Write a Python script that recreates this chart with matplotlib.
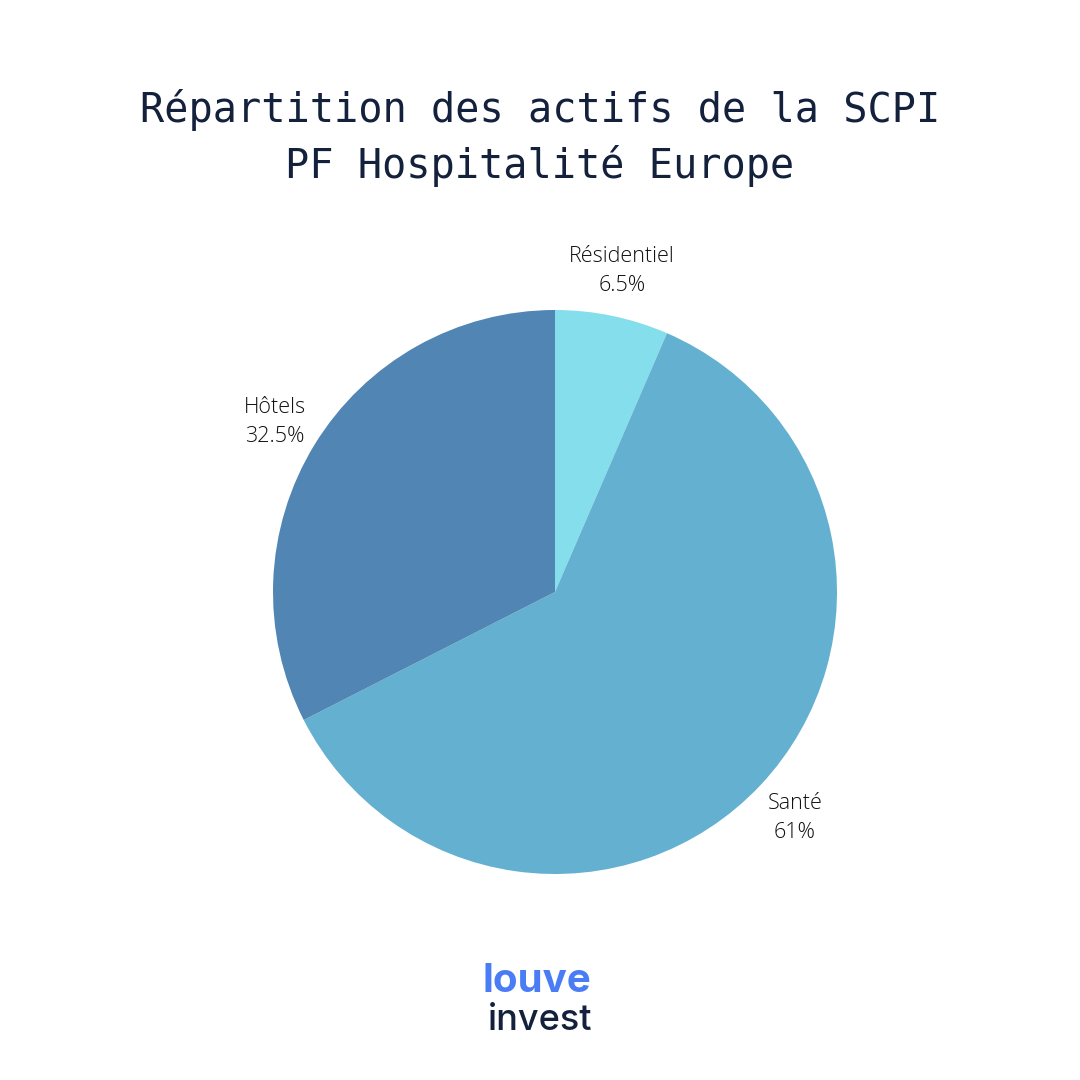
import matplotlib.pyplot as plt

labels = ["Résidentiel", "Santé", "Hôtels"]
values = [6.5, 61, 32.5]
value_labels = ["6.5%", "61%", "32.5%"]
colors = ["#84deec", "#63b0d0", "#5185b3"]

fig = plt.figure(figsize=(10.8, 10.8), dpi=100)
fig.patch.set_facecolor("white")

# pie centre at (555, 592) px, radius ~282 px
ax = fig.add_axes([(555 - 282) / 1080, 1 - (592 + 282) / 1080, 564 / 1080, 564 / 1080])
wedges, _ = ax.pie(values, colors=colors, startangle=90, counterclock=False,
                   wedgeprops=dict(linewidth=0))
ax.set_xlim(-1, 1)
ax.set_ylim(-1, 1)
ax.set_aspect("equal")

label_pos = {"Résidentiel": (622, 271), "Santé": (795, 818), "Hôtels": (275, 422)}
for lab, vl in zip(labels, value_labels):
    x, y = label_pos[lab]
    fig.text(x / 1080, 1 - y / 1080, f"{lab}\n{vl}", ha="center", va="center",
             fontsize=15.5, family="Open Sans", fontweight="light", color="#111111",
             linespacing=1.45)

fig.text(0.5, 1 - 138 / 1080, "Répartition des actifs de la SCPI\nPF Hospitalité Europe",
         ha="center", va="center", fontsize=29, family="DejaVu Sans Mono",
         color="#14213d", linespacing=1.45)

fig.text(537 / 1080, 1 - 982 / 1080, "louve", ha="center", va="center", fontsize=29,
         family="Inter", fontweight="bold", color="#4a7cf5")
fig.text(540 / 1080, 1 - 1020 / 1080, "invest", ha="center", va="center", fontsize=26,
         family="Inter", fontweight="medium", color="#14213d")

fig.savefig("out.png", dpi=100, facecolor="white")
